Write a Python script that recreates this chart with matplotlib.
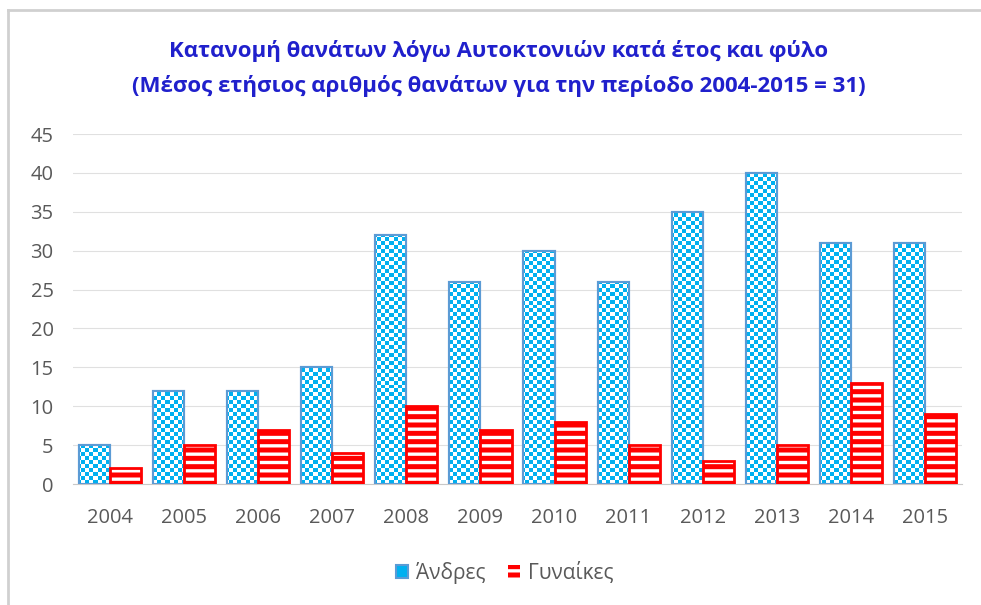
import numpy as np
import matplotlib
matplotlib.use("Agg")
import matplotlib.pyplot as plt
from matplotlib.lines import Line2D
from matplotlib.colors import ListedColormap

years = ["2004", "2005", "2006", "2007", "2008", "2009",
         "2010", "2011", "2012", "2013", "2014", "2015"]
men = [5, 12, 12, 15, 32, 26, 30, 26, 35, 40, 31, 31]
women = [2, 5, 7, 4, 10, 7, 8, 5, 3, 5, 13, 9]
yticks = [0, 5, 10, 15, 20, 25, 30, 35, 40, 45]

title1 = "Κατανομή θανάτων λόγω Αυτοκτονιών κατά έτος και φύλο"
title2 = "(Μέσος ετήσιος αριθμός θανάτων για την περίοδο 2004-2015 = 31)"

plt.rcParams['font.family'] = ['Open Sans', 'DejaVu Sans']
plt.rcParams['hatch.linewidth'] = 2.4

BLUE = '#00B0F0'
BLUE_EDGE = '#5B9BD5'
RED = '#FF0000'
GREY_TXT = '#595959'

fig = plt.figure(figsize=(9.81, 6.05), dpi=100)
ax = fig.add_axes([73/981, 1 - 484/605, 889/981, 350/605])

x = np.arange(len(years))
w = 0.42

# men: blue face + white checkerboard clipped to each bar
bars_m = ax.bar(x - w/2, men, w, color=BLUE, edgecolor=BLUE_EDGE,
                linewidth=1.5, zorder=2, label="Άνδρες")
ny, nx = 88, 222
ii, jj = np.indices((ny, nx))
checker = (ii + jj) % 2
cmap = ListedColormap([BLUE, 'white'])
for b in bars_m:
    im = ax.imshow(checker, extent=(-0.5, 11.5, 0, 45), aspect='auto',
                   interpolation='nearest', cmap=cmap, zorder=2.5)
    im.set_clip_path(b)
ax.bar(x - w/2, men, w, fill=False, edgecolor=BLUE_EDGE, linewidth=1.5,
       zorder=3)

# women: red with white horizontal stripes
bars_f = ax.bar(x + w/2, women, w, color=RED, edgecolor='white', hatch='--',
                linewidth=0, zorder=2, label="Γυναίκες")
ax.bar(x + w/2, women, w, fill=False, edgecolor=RED, linewidth=2,
       zorder=3)

ax.set_xlim(-0.5, 11.5)
ax.set_ylim(0, 45)
ax.set_yticks(yticks)
ax.set_xticks(x)
ax.set_xticklabels(years)
ax.tick_params(axis='both', length=0, labelsize=14.5, colors=GREY_TXT)
ax.tick_params(axis='y', pad=14)
ax.tick_params(axis='x', pad=17)
ax.grid(axis='y', color='#E0E0E0', linewidth=0.8, zorder=0)
ax.set_axisbelow(True)
for s in ['top', 'right', 'left']:
    ax.spines[s].set_visible(False)
ax.spines['bottom'].set_color('#C8C8C8')
ax.spines['bottom'].set_linewidth(0.8)

fig.text(499/981, 1 - 51/605, title1, ha='center', va='center',
         fontsize=16, fontweight='bold', color='#2020CC')
fig.text(499/981, 1 - 86/605, title2, ha='center', va='center',
         fontsize=16, fontweight='bold', color='#2020CC')

fig.legend(handles=[bars_m, bars_f], loc='center',
           bbox_to_anchor=(505/981, 1 - 573/605), ncol=2, frameon=False,
           fontsize=15, labelcolor=GREY_TXT, handlelength=0.55,
           handleheight=0.55, handletextpad=0.4, columnspacing=1.1)

# chart frame (top and left edges)
fig.add_artist(Line2D([8/981, 1], [1 - 10/605, 1 - 10/605],
                      color='#D0D0D0', linewidth=2))
fig.add_artist(Line2D([8/981, 8/981], [0, 1 - 10/605],
                      color='#D0D0D0', linewidth=2))

fig.savefig("out.png", dpi=100)
